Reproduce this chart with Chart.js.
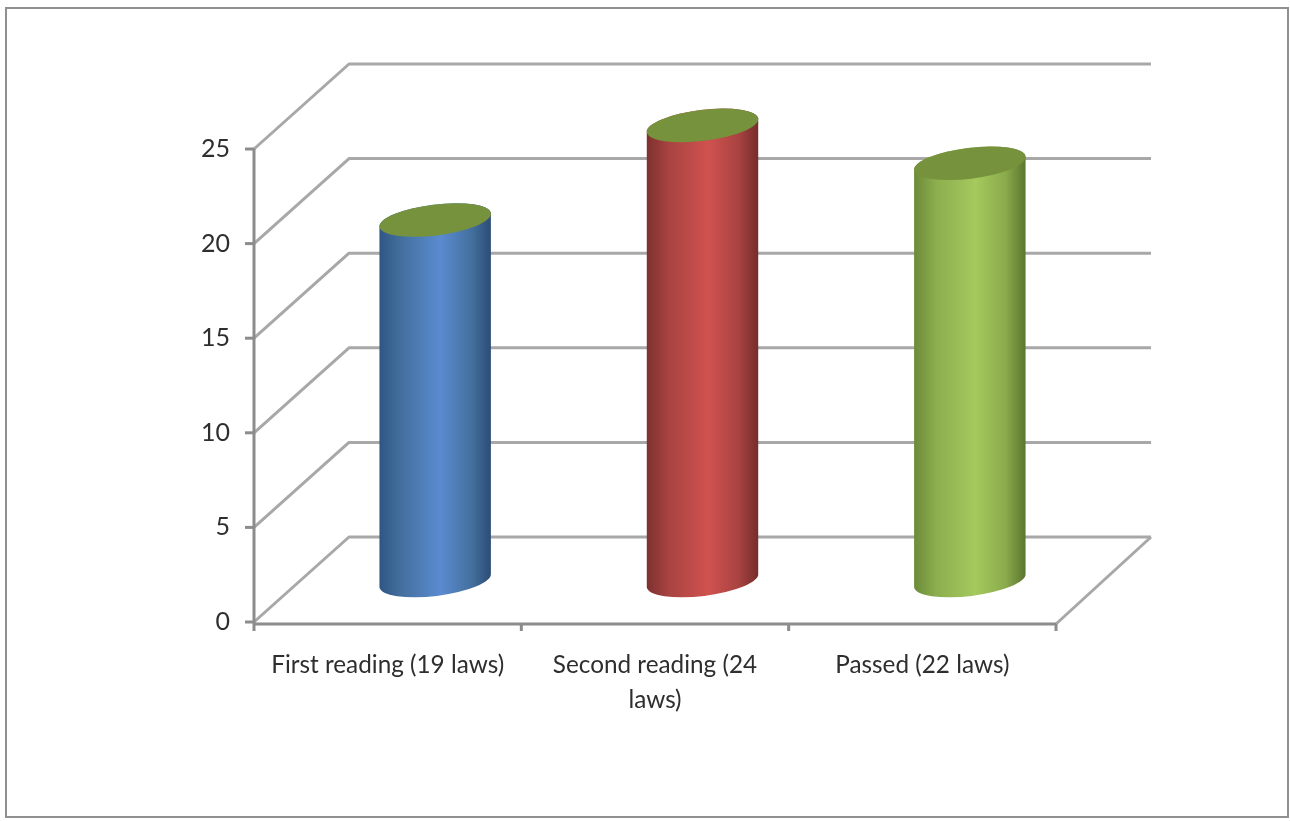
<!DOCTYPE html>
<html>
<head>
<meta charset="utf-8">
<title>Laws</title>
<script src="https://cdn.jsdelivr.net/npm/chart.js@4"></script>
<style>
    html, body { margin: 0; padding: 0; background: #fff; }
    canvas { display: block; filter: blur(0.6px); }
</style>
</head>
<body>
<canvas id="lawsChart" width="1290" height="821"></canvas>
<script>
// data
const categories = [
    'First reading (19 laws)',
    ['Second reading (24', 'laws)'],
    'Passed (22 laws)'
];
const lawCounts = [19, 24, 22];
const yTicks = [0, 5, 10, 15, 20, 25];

// colours of the cylinders, left to right across the side
const gradientStops = [0, 0.2, 0.55, 0.82, 1];
const sideColors = [
    ['#2f5583', '#44709f', '#5a8bd0', '#44709f', '#2c4c75'],
    ['#7d302f', '#a84341', '#d0524f', '#a84341', '#752c2b'],
    ['#6b8a38', '#8cae4e', '#a5c95d', '#8aaa4c', '#5a752e']
];
const topColor = '#76923c';
const gridColor = '#a8a8a8';
const axisColor = '#8c8c8c';
const textColor = '#2e2e2e';

// depth of the fake 3d box
const DEPTH_X = 95;
const DEPTH_Y = 85;

function line(ctx, x1, y1, x2, y2) {
    ctx.beginPath();
    ctx.moveTo(x1, y1);
    ctx.lineTo(x2, y2);
    ctx.stroke();
}

// frame + walls of the box
const boxPlugin = {
    id: 'box',
    beforeDraw(chart) {
        const ctx = chart.ctx;
        ctx.save();
        ctx.fillStyle = '#fff';
        ctx.fillRect(0, 0, chart.width, chart.height);
        ctx.strokeStyle = '#909090';
        ctx.lineWidth = 2;
        ctx.strokeRect(6, 8, 1282, 809);
        ctx.restore();
    },
    beforeDatasetsDraw(chart) {
        const ctx = chart.ctx;
        const xs = chart.scales.x;
        const ys = chart.scales.y;
        const left = xs.left;
        const right = xs.right;
        ctx.save();
        ctx.strokeStyle = gridColor;
        ctx.lineWidth = 3;
        ctx.lineJoin = 'round';
        yTicks.forEach(v => {
            const y = ys.getPixelForValue(v);
            ctx.beginPath();
            ctx.moveTo(left, y);
            ctx.lineTo(left + DEPTH_X, y - DEPTH_Y);
            ctx.lineTo(right + DEPTH_X, y - DEPTH_Y);
            ctx.stroke();
        });
        // floor, right side
        const y0 = ys.getPixelForValue(0);
        line(ctx, right, y0 + 2, right + DEPTH_X, y0 - DEPTH_Y);

        // axes
        ctx.strokeStyle = axisColor;
        line(ctx, left, ys.getPixelForValue(25), left, y0 + 2);
        line(ctx, left, y0 + 2, right, y0 + 2);
        yTicks.forEach(v => {
            const y = ys.getPixelForValue(v);
            line(ctx, left - 9, y, left, y);
        });
        categories.forEach((c, i) => {
            const x = left + (right - left) * i / categories.length;
            line(ctx, x, y0 + 2, x, y0 + 9);
        });
        line(ctx, right, y0 + 2, right, y0 + 9);
        ctx.restore();
    },
    afterDatasetsDraw(chart) {
        const ctx = chart.ctx;
        const bars = chart.getDatasetMeta(0).data;
        const rot = -7 * Math.PI / 180;
        bars.forEach((bar, i) => {
            // cylinders stand half way into the box
            const cx = bar.x + DEPTH_X / 2;
            const topY = bar.y - DEPTH_Y / 2;
            const baseY = bar.base - DEPTH_Y / 2 + 1;
            const rx = bar.width / 2;
            const ry = 15.5;
            const g = ctx.createLinearGradient(cx - rx, 0, cx + rx, 0);
            gradientStops.forEach((s, k) => g.addColorStop(s, sideColors[i][k]));

            ctx.save();
            ctx.fillStyle = g;
            ctx.beginPath();
            ctx.ellipse(cx, baseY, rx, ry, rot, Math.PI, 0, true);
            ctx.lineTo(cx + rx * Math.cos(rot), topY + rx * Math.sin(rot));
            ctx.ellipse(cx, topY, rx, ry, rot, 0, Math.PI, true);
            ctx.closePath();
            ctx.fill();

            ctx.fillStyle = topColor;
            ctx.beginPath();
            ctx.ellipse(cx, topY, rx, ry, rot, 0, Math.PI * 2);
            ctx.fill();
            ctx.restore();
        });
    }
};

new Chart(document.getElementById('lawsChart'), {
    type: 'bar',
    data: {
        labels: categories,
        datasets: [{
            data: lawCounts,
            backgroundColor: 'rgba(0,0,0,0)',
            borderWidth: 0,
            barPercentage: 0.42,
            categoryPercentage: 1
        }]
    },
    options: {
        responsive: false,
        devicePixelRatio: 1,
        animation: false,
        layout: { padding: { left: 190, top: 149, right: 234, bottom: 0 } },
        plugins: { legend: { display: false }, tooltip: { enabled: false } },
        scales: {
            x: {
                grid: { display: false },
                border: { display: false },
                ticks: {
                    color: textColor,
                    font: { family: 'Lato', size: 24.3, lineHeight: 1.47 },
                    maxRotation: 0,
                    autoSkip: false,
                    padding: 17
                },
                afterFit(scale) { scale.height = 199; }
            },
            y: {
                min: 0,
                max: 25,
                grid: { display: false },
                border: { display: false },
                ticks: {
                    color: textColor,
                    font: { family: 'Lato', size: 25 },
                    stepSize: 5,
                    padding: 16
                },
                afterFit(scale) { scale.width = 64; }
            }
        }
    },
    plugins: [boxPlugin]
});
</script>
</body>
</html>
